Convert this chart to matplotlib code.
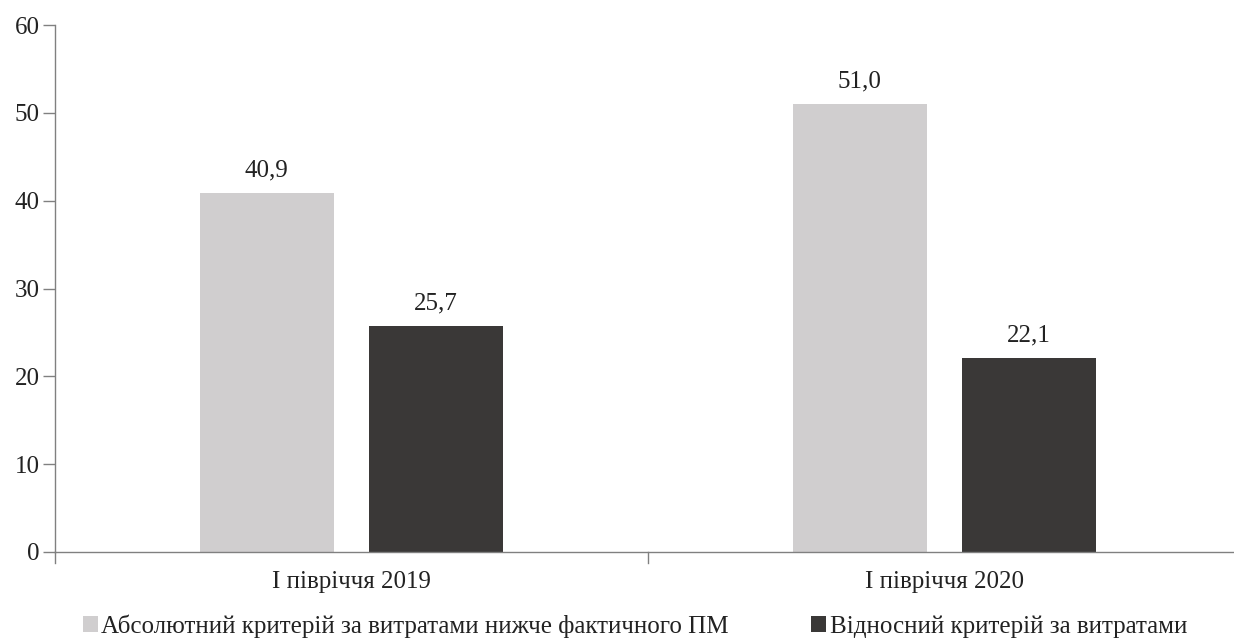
import matplotlib.pyplot as plt
import numpy as np

plt.rcParams['font.family'] = ['Liberation Serif', 'DejaVu Serif']

categories = ['І півріччя 2019', 'І півріччя 2020']
series_names = ['Абсолютний критерій за витратами нижче фактичного ПМ',
                'Відносний критерій за витратами']
absolute_vals = [40.9, 51.0]
relative_vals = [25.7, 22.1]
y_ticks = [0, 10, 20, 30, 40, 50, 60]

light = '#d0cecf'
dark = '#3a3837'
axis_col = '#808080'
text_col = '#222222'

fig = plt.figure(figsize=(12.34, 6.39), dpi=100)
# axes runs slightly past the right edge, as in the original layout
ax = fig.add_axes([55 / 1234, 1 - 552 / 639, 1186 / 1234, 527 / 639])

x = np.arange(len(categories))
width = 0.226
off = 0.143
b1 = ax.bar(x - off, absolute_vals, width, color=light, label=series_names[0])
b2 = ax.bar(x + off, relative_vals, width, color=dark, label=series_names[1])

for bars, vals in ((b1, absolute_vals), (b2, relative_vals)):
    for rect, v in zip(bars, vals):
        ax.text(rect.get_x() + rect.get_width() / 2, v + 1.3,
                f'{v:.1f}'.replace('.', ','), ha='center', va='bottom',
                fontsize=18, color=text_col)

ax.set_xlim(-0.5, len(categories) - 0.5)
ax.set_ylim(0, 60)
ax.set_yticks(y_ticks)
ax.set_yticklabels([str(t) for t in y_ticks], fontsize=18, color=text_col)
ax.set_xticks(x)
ax.set_xticklabels(categories, fontsize=18, color=text_col)
ax.tick_params(axis='x', length=0, pad=14)
ax.tick_params(axis='y', length=9, width=1, color=axis_col, pad=2)

# category boundary ticks on the x axis
for b in np.arange(-0.5, len(categories), 1.0):
    ax.plot([b, b], [0, -1.3], color=axis_col, lw=1, clip_on=False)

for s in ('top', 'right'):
    ax.spines[s].set_visible(False)
for s in ('left', 'bottom'):
    ax.spines[s].set_color(axis_col)
    ax.spines[s].set_linewidth(1)

leg = fig.legend(handles=[b1, b2], loc='lower left', ncol=2,
                 bbox_to_anchor=(60 / 1234, -0.034), frameon=False,
                 fontsize=18, handlelength=0.6, handleheight=0.6,
                 handletextpad=0.15, columnspacing=3.3)
for t in leg.get_texts():
    t.set_color(text_col)

fig.savefig('out.png', dpi=100)
